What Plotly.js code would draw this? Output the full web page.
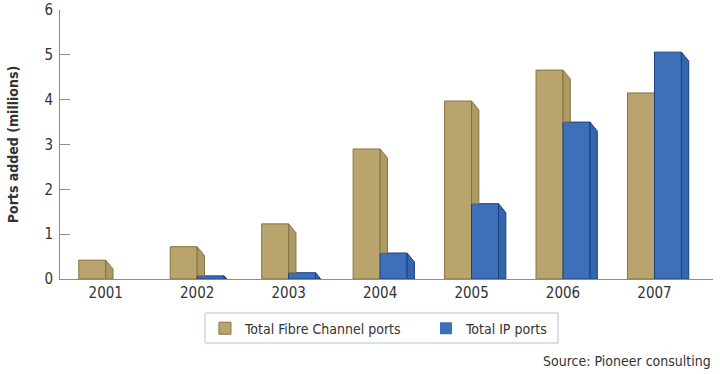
<!DOCTYPE html>
<html>
<head>
<meta charset="utf-8">
<script src="https://cdn.plot.ly/plotly-3.0.1.min.js"></script>
<style>html,body{margin:0;padding:0;background:#fff;}#chart{width:720px;height:374px;}</style>
</head>
<body>
<div id="chart"></div>
<script>
const years = ['2001','2002','2003','2004','2005','2006','2007'];
const fibreChannel = [0.42, 0.72, 1.23, 2.9, 3.97, 4.66, 4.15];
const ipPorts = [0, 0.07, 0.14, 0.58, 1.68, 3.5, 5.06];
const yTicks = [0,1,2,3,4,5,6];

const idx = years.map((_, i) => i);
const FW = 0.295;   // front face width (category units)
const SW = 0.08;    // side face width
const DROP = 0.2;   // chamfer drop (value units)

const tan = '#b8a46c', tanLine = '#857443', tanSide = '#ad9962';
const blue = '#3d70b8', blueLine = '#1d3f80', blueSide = '#3466ad';

function sidePoly(xl, top, base) {
  if (top <= base) return null;
  const pts = [[xl, base], [xl, top]];
  if (top - DROP >= base) {
    pts.push([xl + SW, top - DROP], [xl + SW, base]);
  } else {
    pts.push([xl + SW * (top - base) / DROP, base]);
  }
  pts.push([xl, base]);
  return pts;
}
function buildSide(vals, xoff, baseVals) {
  const xs = [], ys = [];
  vals.forEach((v, i) => {
    const p = sidePoly(i + xoff, v, baseVals ? Math.max(0, baseVals[i]) : 0);
    if (!p) return;
    p.forEach(q => { xs.push(q[0]); ys.push(q[1]); });
    xs.push(null); ys.push(null);
  });
  return {xs, ys};
}
const fcSide = buildSide(fibreChannel, 0, ipPorts);
const ipSide = buildSide(ipPorts, FW, null);

const traces = [
  {type:'bar', x: idx, y: fibreChannel, name:'Total Fibre Channel ports',
   offset: -FW, width: FW, marker:{color: tan, line:{color: tanLine, width: fibreChannel.map(v => v > 0 ? 1 : 0)}}, hoverinfo:'y'},
  {type:'bar', x: idx, y: ipPorts, name:'Total IP ports',
   offset: 0, width: FW, marker:{color: blue, line:{color: blueLine, width: ipPorts.map(v => v > 0 ? 1 : 0)}}, hoverinfo:'y'},
  {type:'scatter', x: fcSide.xs, y: fcSide.ys, mode:'lines', fill:'toself', fillcolor: tanSide,
   line:{color: tanLine, width:1}, showlegend:false, hoverinfo:'skip'},
  {type:'scatter', x: ipSide.xs, y: ipSide.ys, mode:'lines', fill:'toself', fillcolor: blueSide,
   line:{color: blueLine, width:1}, showlegend:false, hoverinfo:'skip'}
];

const fontFam = '"Liberation Sans Narrow", "DejaVu Sans Condensed", Arial, sans-serif';
const layout = {
  width: 720, height: 374,
  margin: {l: 60, r: 7, t: 10, b: 95},
  paper_bgcolor: '#fff', plot_bgcolor: '#fff',
  showlegend: true,
  font: {family: fontFam, color: '#333', size: 13},
  xaxis: {
    range: [-0.5, 6.64], tickvals: idx, ticktext: years, showgrid: false, zeroline: false,
    showline: true, linecolor: '#8c8c8c', linewidth: 1, ticks: '', fixedrange: true,
    tickfont: {size: 15, color: '#333', family: fontFam}
  },
  yaxis: {
    range: [0, 6], tickvals: yTicks, ticktext: yTicks.map(String), showgrid: false, zeroline: false,
    showline: true, linecolor: '#8c8c8c', linewidth: 1, ticks: 'inside', ticklen: 10,
    tickcolor: '#8c8c8c', tickfont: {size: 15, color: '#333', family: fontFam},
    ticklabelstandoff: 3,
    title: {text: 'Ports added (millions)', font: {size: 14, color: '#333', family: fontFam, weight: 'bold'}, standoff: 22}
  },
  legend: {
    orientation: 'h', x: 0.222, xanchor: 'left', y: -0.125, yanchor: 'top',
    borderwidth: 0, bgcolor: 'rgba(0,0,0,0)',
    font: {size: 14, color: '#333', family: fontFam}, entrywidth: 176, traceorder: 'normal'
  },
  shapes: [{
    type: 'rect', xref: 'paper', yref: 'paper',
    x0: (205 - 60) / 653, x1: (558 - 60) / 653, y0: (279 - 343) / 269, y1: (279 - 313) / 269,
    line: {color: '#b3c0dc', width: 1}, fillcolor: 'rgba(0,0,0,0)', layer: 'below'
  }],
  annotations: [{
    text: 'Source: Pioneer consulting', xref: 'paper', yref: 'paper', x: 1, y: -0.305,
    xanchor: 'right', yanchor: 'middle', showarrow: false, font: {size: 14, color: '#333', family: fontFam}
  }]
};
Plotly.newPlot('chart', traces, layout, {displayModeBar: false, staticPlot: true});
</script>
</body>
</html>
